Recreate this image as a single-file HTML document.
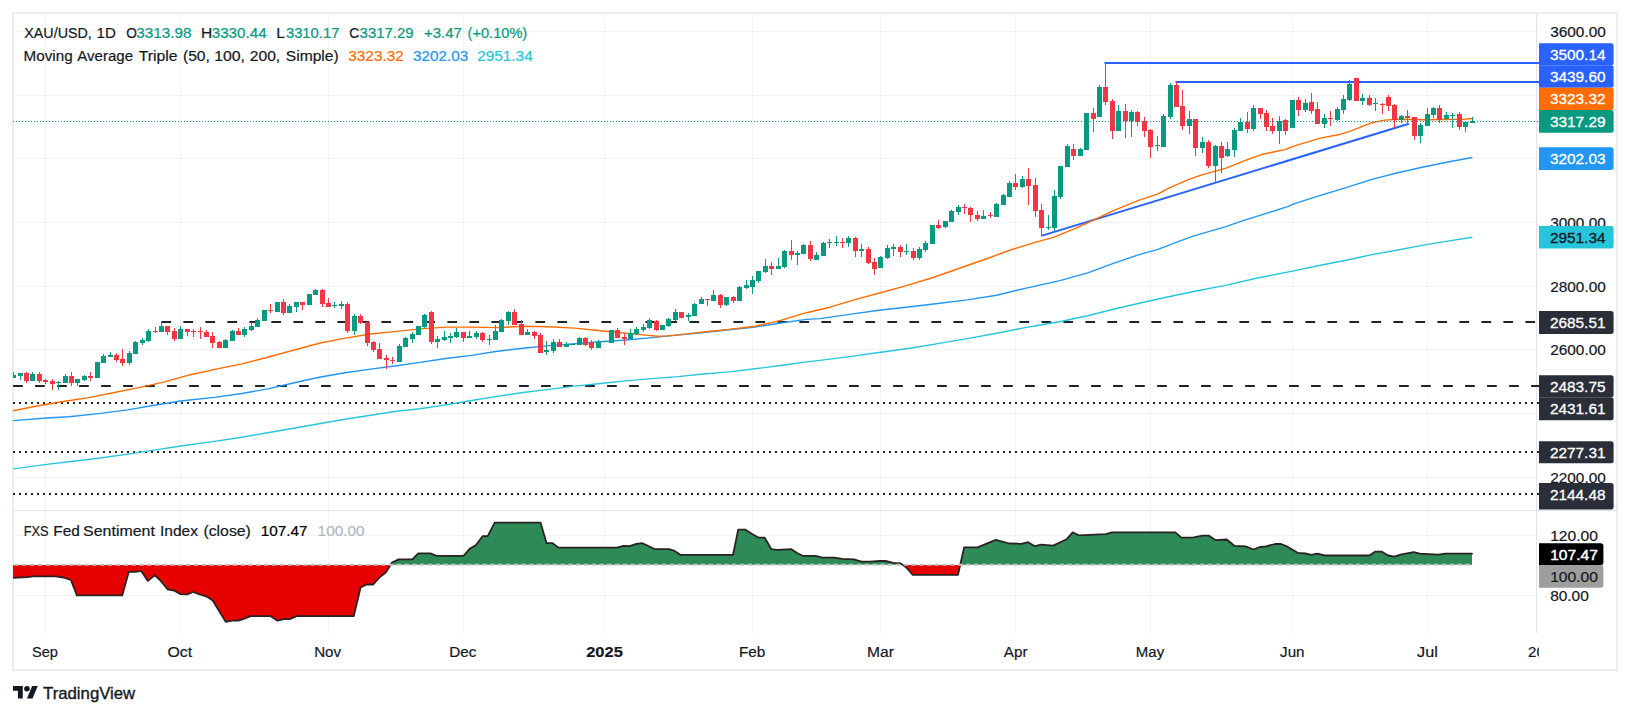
<!DOCTYPE html><html><head><meta charset="utf-8"><title>XAU/USD chart</title>
<style>html,body{margin:0;padding:0;background:#fff}svg{display:block}text{font-family:"Liberation Sans", sans-serif}</style></head><body>
<svg width="1630" height="716" viewBox="0 0 1630 716">
<rect width="1630" height="716" fill="#fff"/>
<defs><clipPath id="mp"><rect x="13" y="13" width="1526.0" height="497.5"/></clipPath><clipPath id="sp"><rect x="13" y="511" width="1523.5" height="122"/></clipPath><clipPath id="tc"><rect x="0" y="634" width="1539" height="36"/></clipPath></defs>
<g stroke="#2a2e39" stroke-opacity="0.06" stroke-width="1" shape-rendering="crispEdges">
<line x1="45.5" y1="12.5" x2="45.5" y2="633.0"/>
<line x1="180.5" y1="12.5" x2="180.5" y2="633.0"/>
<line x1="328.5" y1="12.5" x2="328.5" y2="633.0"/>
<line x1="463.5" y1="12.5" x2="463.5" y2="633.0"/>
<line x1="604.5" y1="12.5" x2="604.5" y2="633.0"/>
<line x1="752.5" y1="12.5" x2="752.5" y2="633.0"/>
<line x1="880.5" y1="12.5" x2="880.5" y2="633.0"/>
<line x1="1015.5" y1="12.5" x2="1015.5" y2="633.0"/>
<line x1="1150.5" y1="12.5" x2="1150.5" y2="633.0"/>
<line x1="1292.5" y1="12.5" x2="1292.5" y2="633.0"/>
<line x1="1427.5" y1="12.5" x2="1427.5" y2="633.0"/>
<line x1="12.5" y1="31.5" x2="1539.0" y2="31.5"/>
<line x1="12.5" y1="95.5" x2="1539.0" y2="95.5"/>
<line x1="12.5" y1="158.5" x2="1539.0" y2="158.5"/>
<line x1="12.5" y1="222.5" x2="1539.0" y2="222.5"/>
<line x1="12.5" y1="286.5" x2="1539.0" y2="286.5"/>
<line x1="12.5" y1="349.5" x2="1539.0" y2="349.5"/>
<line x1="12.5" y1="413.5" x2="1539.0" y2="413.5"/>
<line x1="12.5" y1="477.5" x2="1539.0" y2="477.5"/>
<line x1="12.5" y1="535.5" x2="1539.0" y2="535.5"/>
<line x1="12.5" y1="595.5" x2="1539.0" y2="595.5"/>
</g>
<g stroke="#e0e3eb" stroke-width="1" fill="none" shape-rendering="crispEdges">
<rect x="13" y="13" width="1604" height="657" stroke="#ebedf3" stroke-width="2"/>
<line x1="1536.5" y1="12.5" x2="1536.5" y2="633.0"/>
<line x1="12.5" y1="510.5" x2="1617.5" y2="510.5"/>
</g>
<g clip-path="url(#mp)">
<line x1="161.4" y1="322" x2="1539" y2="322" stroke="#1e222d" stroke-width="2" stroke-dasharray="9.7 12.3"/>
<line x1="13.1" y1="386" x2="1539" y2="386" stroke="#1e222d" stroke-width="2" stroke-dasharray="9.7 12.3"/>
<line x1="13.0" y1="403" x2="1539" y2="403" stroke="#1e222d" stroke-width="2" stroke-dasharray="2 4"/>
<line x1="13.0" y1="452" x2="1539" y2="452" stroke="#1e222d" stroke-width="2" stroke-dasharray="2 4"/>
<line x1="13.0" y1="494" x2="1539" y2="494" stroke="#1e222d" stroke-width="2" stroke-dasharray="2 4"/>
<line x1="1104.5" y1="63" x2="1539" y2="63" stroke="#2962ff" stroke-width="2"/>
<line x1="1175.5" y1="82" x2="1539" y2="82" stroke="#2962ff" stroke-width="2"/>
<line x1="1041.2" y1="235.9" x2="1408.9" y2="123.8" stroke="#2962ff" stroke-width="2"/>
<polyline fill="none" stroke="#26c6da" stroke-width="1.4" stroke-linejoin="round" points="13.1,468.9 46.8,464.4 68.9,461.7 98.4,458.2 127.8,454.1 157.3,449.6 180.8,446.0 216.2,441.1 241.9,437.2 267.7,432.7 293.4,428.3 319.2,423.7 345.0,419.3 370.7,415.2 396.5,411.3 420.0,408.8 445.8,404.9 471.5,400.5 497.3,396.4 523.1,392.5 548.8,389.4 574.6,386.1 600.4,383.5 626.1,380.9 651.9,378.6 677.7,376.6 703.4,374.0 729.2,371.9 755.0,368.8 780.7,365.5 806.5,361.9 820.0,360.4 849.5,356.6 878.9,352.5 908.4,348.5 937.8,343.6 967.3,338.6 996.7,333.3 1026.2,327.4 1036.1,325.8 1061.9,321.3 1087.7,315.7 1113.4,309.2 1139.2,303.3 1165.0,297.5 1197.3,290.7 1226.7,285.1 1256.2,278.3 1290.0,271.6 1320.4,265.2 1346.1,260.3 1371.9,254.6 1397.7,250.0 1423.4,245.1 1449.2,240.9 1472.4,237.3"/>
<polyline fill="none" stroke="#2196f3" stroke-width="1.4" stroke-linejoin="round" points="13.1,420.6 46.8,418.0 68.9,416.8 98.4,413.6 127.8,409.9 157.3,404.7 180.8,401.0 216.2,397.1 241.9,393.5 267.7,388.9 293.4,383.0 319.2,377.3 345.0,372.7 370.7,369.1 396.5,365.7 420.0,362.4 445.8,358.5 471.5,355.4 497.3,351.3 523.1,348.2 548.8,345.6 574.6,343.8 600.4,341.8 626.1,340.0 651.9,337.6 677.7,335.1 703.4,332.5 729.2,329.7 755.0,327.1 780.7,323.0 806.5,319.4 820.0,318.6 849.5,314.4 878.9,310.3 908.4,307.0 937.8,303.5 967.3,299.9 996.7,295.2 1026.2,288.1 1060.0,280.6 1087.7,272.9 1113.4,263.4 1139.2,254.6 1158.0,249.4 1165.8,246.4 1191.5,236.6 1225.0,226.8 1243.1,220.6 1268.8,212.6 1286.9,206.9 1294.6,203.6 1320.4,195.3 1346.1,187.6 1371.9,179.4 1397.7,172.7 1423.4,167.0 1449.2,161.8 1472.4,157.5"/>
<polyline fill="none" stroke="#ff6d00" stroke-width="1.4" stroke-linejoin="round" points="13.1,410.8 35.8,406.2 61.5,401.8 87.3,397.9 113.1,392.8 138.8,387.6 164.6,381.9 190.4,374.7 216.1,369.1 241.9,363.9 267.7,357.2 293.4,350.2 319.2,343.3 345.0,338.1 370.7,334.0 396.5,331.4 420.0,328.9 445.8,327.1 471.5,327.1 497.3,327.6 523.1,326.3 548.8,326.8 574.6,328.1 600.4,330.7 626.1,333.3 648.0,335.4 657.8,336.2 667.6,335.9 677.4,334.9 687.2,333.9 700.0,332.4 703.4,332.0 729.2,329.4 755.0,326.3 780.7,320.4 806.5,312.7 830.0,307.2 855.8,299.4 881.5,292.5 907.3,285.3 933.1,277.5 958.8,268.5 984.6,259.5 1010.4,250.0 1036.1,242.2 1054.2,237.1 1074.8,228.6 1087.7,222.9 1113.4,210.6 1139.2,200.2 1150.0,196.7 1157.5,194.2 1168.9,188.2 1187.7,179.8 1200.3,175.4 1212.8,171.8 1225.4,168.4 1238.0,163.4 1250.6,158.4 1263.1,154.2 1275.7,151.5 1285.1,149.6 1294.5,145.8 1320.4,138.1 1338.4,134.8 1351.3,130.9 1371.9,122.7 1384.8,120.1 1397.7,119.3 1423.4,119.7 1443.4,119.5 1464.7,119.4 1467.5,118.7 1472.4,118.5"/>
<g fill="#089981" shape-rendering="crispEdges">
<rect x="13" y="372" width="1" height="6"/><rect x="11" y="375" width="5" height="3"/>
<rect x="20" y="373" width="1" height="7"/><rect x="18" y="373" width="5" height="3"/>
<rect x="32" y="372" width="1" height="9"/><rect x="30" y="374" width="5" height="7"/>
<rect x="58" y="381" width="1" height="9"/><rect x="56" y="382" width="5" height="1"/>
<rect x="65" y="374" width="1" height="9"/><rect x="63" y="376" width="5" height="7"/>
<rect x="77" y="379" width="1" height="7"/><rect x="75" y="379" width="5" height="4"/>
<rect x="84" y="375" width="1" height="6"/><rect x="82" y="376" width="5" height="4"/>
<rect x="97" y="362" width="1" height="16"/><rect x="95" y="362" width="5" height="16"/>
<rect x="103" y="354" width="1" height="9"/><rect x="101" y="356" width="5" height="7"/>
<rect x="110" y="352" width="1" height="5"/><rect x="108" y="355" width="5" height="2"/>
<rect x="129" y="351" width="1" height="14"/><rect x="127" y="353" width="5" height="10"/>
<rect x="135" y="341" width="1" height="13"/><rect x="133" y="342" width="5" height="12"/>
<rect x="142" y="338" width="1" height="7"/><rect x="140" y="340" width="5" height="3"/>
<rect x="148" y="329" width="1" height="13"/><rect x="146" y="331" width="5" height="10"/>
<rect x="161" y="322" width="1" height="10"/><rect x="159" y="326" width="5" height="6"/>
<rect x="180" y="326" width="1" height="13"/><rect x="178" y="329" width="5" height="10"/>
<rect x="225" y="339" width="1" height="9"/><rect x="223" y="340" width="5" height="8"/>
<rect x="232" y="330" width="1" height="11"/><rect x="230" y="331" width="5" height="10"/>
<rect x="244" y="327" width="1" height="10"/><rect x="242" y="329" width="5" height="6"/>
<rect x="251" y="322" width="1" height="9"/><rect x="249" y="326" width="5" height="4"/>
<rect x="257" y="318" width="1" height="9"/><rect x="255" y="320" width="5" height="7"/>
<rect x="264" y="310" width="1" height="11"/><rect x="262" y="310" width="5" height="11"/>
<rect x="277" y="302" width="1" height="10"/><rect x="275" y="302" width="5" height="10"/>
<rect x="289" y="304" width="1" height="9"/><rect x="287" y="306" width="5" height="7"/>
<rect x="296" y="302" width="1" height="10"/><rect x="294" y="302" width="5" height="5"/>
<rect x="309" y="294" width="1" height="11"/><rect x="307" y="294" width="5" height="11"/>
<rect x="315" y="289" width="1" height="6"/><rect x="313" y="290" width="5" height="5"/>
<rect x="334" y="302" width="1" height="6"/><rect x="332" y="305" width="5" height="1"/>
<rect x="341" y="301" width="1" height="8"/><rect x="339" y="304" width="5" height="2"/>
<rect x="354" y="314" width="1" height="21"/><rect x="352" y="316" width="5" height="15"/>
<rect x="399" y="344" width="1" height="18"/><rect x="397" y="346" width="5" height="16"/>
<rect x="405" y="337" width="1" height="10"/><rect x="403" y="338" width="5" height="9"/>
<rect x="412" y="332" width="1" height="11"/><rect x="410" y="334" width="5" height="5"/>
<rect x="418" y="326" width="1" height="9"/><rect x="416" y="326" width="5" height="9"/>
<rect x="424" y="314" width="1" height="14"/><rect x="422" y="315" width="5" height="12"/>
<rect x="437" y="336" width="1" height="12"/><rect x="435" y="339" width="5" height="3"/>
<rect x="444" y="331" width="1" height="10"/><rect x="442" y="337" width="5" height="3"/>
<rect x="450" y="333" width="1" height="10"/><rect x="448" y="336" width="5" height="2"/>
<rect x="456" y="328" width="1" height="10"/><rect x="454" y="332" width="5" height="5"/>
<rect x="469" y="331" width="1" height="7"/><rect x="467" y="336" width="5" height="2"/>
<rect x="476" y="331" width="1" height="8"/><rect x="474" y="333" width="5" height="4"/>
<rect x="489" y="335" width="1" height="10"/><rect x="487" y="339" width="5" height="1"/>
<rect x="495" y="325" width="1" height="15"/><rect x="493" y="331" width="5" height="9"/>
<rect x="501" y="319" width="1" height="13"/><rect x="499" y="320" width="5" height="12"/>
<rect x="508" y="311" width="1" height="14"/><rect x="506" y="312" width="5" height="9"/>
<rect x="527" y="329" width="1" height="6"/><rect x="525" y="332" width="5" height="3"/>
<rect x="546" y="341" width="1" height="14"/><rect x="544" y="350" width="5" height="2"/>
<rect x="553" y="339" width="1" height="14"/><rect x="551" y="342" width="5" height="9"/>
<rect x="566" y="342" width="1" height="5"/><rect x="564" y="344" width="5" height="3"/>
<rect x="572" y="344" width="1" height="1"/><rect x="570" y="344" width="5" height="1"/>
<rect x="579" y="337" width="1" height="8"/><rect x="577" y="338" width="5" height="7"/>
<rect x="598" y="340" width="1" height="8"/><rect x="596" y="342" width="5" height="6"/>
<rect x="604" y="341" width="1" height="1"/><rect x="602" y="341" width="5" height="1"/>
<rect x="611" y="330" width="1" height="13"/><rect x="609" y="330" width="5" height="13"/>
<rect x="630" y="329" width="1" height="10"/><rect x="628" y="333" width="5" height="6"/>
<rect x="636" y="327" width="1" height="8"/><rect x="634" y="329" width="5" height="5"/>
<rect x="643" y="324" width="1" height="8"/><rect x="641" y="327" width="5" height="3"/>
<rect x="649" y="318" width="1" height="11"/><rect x="647" y="320" width="5" height="8"/>
<rect x="662" y="325" width="1" height="5"/><rect x="660" y="325" width="5" height="5"/>
<rect x="668" y="318" width="1" height="9"/><rect x="666" y="319" width="5" height="7"/>
<rect x="675" y="309" width="1" height="12"/><rect x="673" y="312" width="5" height="8"/>
<rect x="688" y="313" width="1" height="8"/><rect x="686" y="315" width="5" height="2"/>
<rect x="694" y="303" width="1" height="13"/><rect x="692" y="304" width="5" height="12"/>
<rect x="701" y="297" width="1" height="7"/><rect x="699" y="299" width="5" height="5"/>
<rect x="713" y="290" width="1" height="11"/><rect x="711" y="295" width="5" height="6"/>
<rect x="726" y="297" width="1" height="9"/><rect x="724" y="297" width="5" height="8"/>
<rect x="739" y="286" width="1" height="15"/><rect x="737" y="287" width="5" height="14"/>
<rect x="746" y="280" width="1" height="9"/><rect x="744" y="285" width="5" height="3"/>
<rect x="752" y="276" width="1" height="18"/><rect x="750" y="280" width="5" height="7"/>
<rect x="758" y="271" width="1" height="12"/><rect x="756" y="271" width="5" height="10"/>
<rect x="765" y="259" width="1" height="14"/><rect x="763" y="266" width="5" height="6"/>
<rect x="778" y="258" width="1" height="11"/><rect x="776" y="266" width="5" height="3"/>
<rect x="784" y="250" width="1" height="18"/><rect x="782" y="251" width="5" height="16"/>
<rect x="797" y="251" width="1" height="14"/><rect x="795" y="253" width="5" height="2"/>
<rect x="803" y="244" width="1" height="10"/><rect x="801" y="245" width="5" height="9"/>
<rect x="816" y="252" width="1" height="8"/><rect x="814" y="255" width="5" height="5"/>
<rect x="823" y="242" width="1" height="14"/><rect x="821" y="243" width="5" height="13"/>
<rect x="829" y="239" width="1" height="9"/><rect x="827" y="242" width="5" height="1"/>
<rect x="836" y="236" width="1" height="10"/><rect x="834" y="242" width="5" height="1"/>
<rect x="848" y="236" width="1" height="11"/><rect x="846" y="238" width="5" height="5"/>
<rect x="861" y="244" width="1" height="13"/><rect x="859" y="249" width="5" height="2"/>
<rect x="880" y="256" width="1" height="12"/><rect x="878" y="257" width="5" height="11"/>
<rect x="887" y="245" width="1" height="14"/><rect x="885" y="248" width="5" height="10"/>
<rect x="893" y="244" width="1" height="12"/><rect x="891" y="247" width="5" height="2"/>
<rect x="906" y="244" width="1" height="11"/><rect x="904" y="251" width="5" height="1"/>
<rect x="919" y="247" width="1" height="13"/><rect x="917" y="249" width="5" height="9"/>
<rect x="925" y="241" width="1" height="11"/><rect x="923" y="243" width="5" height="7"/>
<rect x="932" y="225" width="1" height="19"/><rect x="930" y="225" width="5" height="19"/>
<rect x="945" y="221" width="1" height="7"/><rect x="943" y="221" width="5" height="6"/>
<rect x="951" y="210" width="1" height="12"/><rect x="949" y="211" width="5" height="11"/>
<rect x="958" y="205" width="1" height="10"/><rect x="956" y="207" width="5" height="5"/>
<rect x="983" y="210" width="1" height="9"/><rect x="981" y="216" width="5" height="3"/>
<rect x="996" y="203" width="1" height="14"/><rect x="994" y="204" width="5" height="13"/>
<rect x="1003" y="194" width="1" height="11"/><rect x="1001" y="195" width="5" height="10"/>
<rect x="1009" y="181" width="1" height="16"/><rect x="1007" y="183" width="5" height="14"/>
<rect x="1022" y="176" width="1" height="12"/><rect x="1020" y="179" width="5" height="8"/>
<rect x="1048" y="215" width="1" height="15"/><rect x="1046" y="227" width="5" height="1"/>
<rect x="1054" y="190" width="1" height="41"/><rect x="1052" y="196" width="5" height="32"/>
<rect x="1060" y="166" width="1" height="33"/><rect x="1058" y="166" width="5" height="31"/>
<rect x="1067" y="144" width="1" height="23"/><rect x="1065" y="146" width="5" height="21"/>
<rect x="1080" y="148" width="1" height="8"/><rect x="1078" y="149" width="5" height="7"/>
<rect x="1086" y="113" width="1" height="37"/><rect x="1084" y="113" width="5" height="37"/>
<rect x="1099" y="85" width="1" height="32"/><rect x="1097" y="87" width="5" height="30"/>
<rect x="1118" y="105" width="1" height="26"/><rect x="1116" y="111" width="5" height="20"/>
<rect x="1131" y="110" width="1" height="27"/><rect x="1129" y="112" width="5" height="9"/>
<rect x="1157" y="136" width="1" height="15"/><rect x="1155" y="145" width="5" height="1"/>
<rect x="1163" y="114" width="1" height="33"/><rect x="1161" y="116" width="5" height="31"/>
<rect x="1170" y="83" width="1" height="36"/><rect x="1168" y="85" width="5" height="32"/>
<rect x="1189" y="111" width="1" height="23"/><rect x="1187" y="119" width="5" height="7"/>
<rect x="1202" y="137" width="1" height="16"/><rect x="1200" y="142" width="5" height="6"/>
<rect x="1215" y="145" width="1" height="38"/><rect x="1213" y="146" width="5" height="20"/>
<rect x="1227" y="142" width="1" height="15"/><rect x="1225" y="149" width="5" height="7"/>
<rect x="1234" y="128" width="1" height="29"/><rect x="1232" y="130" width="5" height="20"/>
<rect x="1240" y="118" width="1" height="13"/><rect x="1238" y="122" width="5" height="9"/>
<rect x="1253" y="105" width="1" height="26"/><rect x="1251" y="108" width="5" height="21"/>
<rect x="1279" y="116" width="1" height="28"/><rect x="1277" y="121" width="5" height="10"/>
<rect x="1292" y="100" width="1" height="28"/><rect x="1290" y="100" width="5" height="28"/>
<rect x="1305" y="99" width="1" height="13"/><rect x="1303" y="103" width="5" height="7"/>
<rect x="1324" y="114" width="1" height="14"/><rect x="1322" y="118" width="5" height="6"/>
<rect x="1337" y="107" width="1" height="14"/><rect x="1335" y="109" width="5" height="11"/>
<rect x="1343" y="95" width="1" height="19"/><rect x="1341" y="99" width="5" height="11"/>
<rect x="1349" y="80" width="1" height="21"/><rect x="1347" y="84" width="5" height="16"/>
<rect x="1362" y="94" width="1" height="11"/><rect x="1360" y="98" width="5" height="3"/>
<rect x="1375" y="98" width="1" height="13"/><rect x="1373" y="103" width="5" height="1"/>
<rect x="1401" y="115" width="1" height="8"/><rect x="1399" y="116" width="5" height="4"/>
<rect x="1420" y="123" width="1" height="20"/><rect x="1418" y="125" width="5" height="11"/>
<rect x="1427" y="108" width="1" height="18"/><rect x="1425" y="114" width="5" height="12"/>
<rect x="1433" y="107" width="1" height="11"/><rect x="1431" y="108" width="5" height="7"/>
<rect x="1446" y="112" width="1" height="7"/><rect x="1444" y="115" width="5" height="4"/>
<rect x="1452" y="113" width="1" height="15"/><rect x="1450" y="115" width="5" height="1"/>
<rect x="1465" y="122" width="1" height="10"/><rect x="1463" y="122" width="5" height="5"/>
<rect x="1472" y="117" width="1" height="6"/><rect x="1470" y="121" width="5" height="2"/>
</g>
<g fill="#f23645" shape-rendering="crispEdges">
<rect x="26" y="372" width="1" height="11"/><rect x="24" y="373" width="5" height="8"/>
<rect x="39" y="372" width="1" height="11"/><rect x="37" y="374" width="5" height="7"/>
<rect x="45" y="379" width="1" height="5"/><rect x="43" y="380" width="5" height="2"/>
<rect x="52" y="379" width="1" height="11"/><rect x="50" y="381" width="5" height="3"/>
<rect x="71" y="372" width="1" height="14"/><rect x="69" y="376" width="5" height="7"/>
<rect x="90" y="372" width="1" height="9"/><rect x="88" y="376" width="5" height="2"/>
<rect x="116" y="353" width="1" height="9"/><rect x="114" y="355" width="5" height="5"/>
<rect x="122" y="349" width="1" height="17"/><rect x="120" y="359" width="5" height="4"/>
<rect x="155" y="327" width="1" height="6"/><rect x="153" y="331" width="5" height="1"/>
<rect x="167" y="326" width="1" height="9"/><rect x="165" y="326" width="5" height="6"/>
<rect x="174" y="328" width="1" height="13"/><rect x="172" y="331" width="5" height="8"/>
<rect x="187" y="329" width="1" height="7"/><rect x="185" y="329" width="5" height="3"/>
<rect x="193" y="329" width="1" height="8"/><rect x="191" y="331" width="5" height="1"/>
<rect x="200" y="327" width="1" height="12"/><rect x="198" y="331" width="5" height="1"/>
<rect x="206" y="330" width="1" height="7"/><rect x="204" y="332" width="5" height="5"/>
<rect x="212" y="332" width="1" height="16"/><rect x="210" y="336" width="5" height="7"/>
<rect x="219" y="341" width="1" height="7"/><rect x="217" y="342" width="5" height="6"/>
<rect x="238" y="328" width="1" height="7"/><rect x="236" y="331" width="5" height="4"/>
<rect x="270" y="304" width="1" height="9"/><rect x="268" y="310" width="5" height="1"/>
<rect x="283" y="299" width="1" height="16"/><rect x="281" y="302" width="5" height="11"/>
<rect x="302" y="302" width="1" height="8"/><rect x="300" y="302" width="5" height="3"/>
<rect x="322" y="289" width="1" height="18"/><rect x="320" y="290" width="5" height="14"/>
<rect x="328" y="298" width="1" height="9"/><rect x="326" y="303" width="5" height="4"/>
<rect x="347" y="302" width="1" height="31"/><rect x="345" y="304" width="5" height="27"/>
<rect x="360" y="314" width="1" height="10"/><rect x="358" y="316" width="5" height="7"/>
<rect x="367" y="322" width="1" height="24"/><rect x="365" y="322" width="5" height="21"/>
<rect x="373" y="341" width="1" height="11"/><rect x="371" y="342" width="5" height="8"/>
<rect x="379" y="343" width="1" height="16"/><rect x="377" y="349" width="5" height="10"/>
<rect x="386" y="355" width="1" height="14"/><rect x="384" y="358" width="5" height="2"/>
<rect x="392" y="357" width="1" height="7"/><rect x="390" y="360" width="5" height="1"/>
<rect x="431" y="311" width="1" height="33"/><rect x="429" y="312" width="5" height="30"/>
<rect x="463" y="332" width="1" height="10"/><rect x="461" y="332" width="5" height="6"/>
<rect x="482" y="332" width="1" height="10"/><rect x="480" y="333" width="5" height="7"/>
<rect x="514" y="309" width="1" height="16"/><rect x="512" y="312" width="5" height="13"/>
<rect x="521" y="320" width="1" height="15"/><rect x="519" y="324" width="5" height="11"/>
<rect x="534" y="331" width="1" height="8"/><rect x="532" y="332" width="5" height="4"/>
<rect x="540" y="333" width="1" height="20"/><rect x="538" y="335" width="5" height="18"/>
<rect x="559" y="339" width="1" height="8"/><rect x="557" y="342" width="5" height="5"/>
<rect x="585" y="337" width="1" height="9"/><rect x="583" y="338" width="5" height="7"/>
<rect x="591" y="340" width="1" height="10"/><rect x="589" y="342" width="5" height="6"/>
<rect x="617" y="328" width="1" height="10"/><rect x="615" y="330" width="5" height="8"/>
<rect x="624" y="334" width="1" height="11"/><rect x="622" y="337" width="5" height="2"/>
<rect x="656" y="320" width="1" height="11"/><rect x="654" y="321" width="5" height="9"/>
<rect x="681" y="312" width="1" height="6"/><rect x="679" y="312" width="5" height="6"/>
<rect x="707" y="299" width="1" height="7"/><rect x="705" y="299" width="5" height="1"/>
<rect x="720" y="294" width="1" height="14"/><rect x="718" y="295" width="5" height="10"/>
<rect x="733" y="296" width="1" height="7"/><rect x="731" y="297" width="5" height="4"/>
<rect x="771" y="262" width="1" height="13"/><rect x="769" y="266" width="5" height="3"/>
<rect x="791" y="240" width="1" height="20"/><rect x="789" y="251" width="5" height="4"/>
<rect x="810" y="241" width="1" height="20"/><rect x="808" y="245" width="5" height="14"/>
<rect x="842" y="238" width="1" height="10"/><rect x="840" y="242" width="5" height="1"/>
<rect x="855" y="237" width="1" height="20"/><rect x="853" y="238" width="5" height="13"/>
<rect x="868" y="247" width="1" height="17"/><rect x="866" y="249" width="5" height="14"/>
<rect x="874" y="258" width="1" height="17"/><rect x="872" y="262" width="5" height="7"/>
<rect x="900" y="245" width="1" height="12"/><rect x="898" y="247" width="5" height="5"/>
<rect x="913" y="248" width="1" height="12"/><rect x="911" y="251" width="5" height="7"/>
<rect x="938" y="220" width="1" height="9"/><rect x="936" y="225" width="5" height="3"/>
<rect x="964" y="204" width="1" height="10"/><rect x="962" y="207" width="5" height="1"/>
<rect x="970" y="207" width="1" height="15"/><rect x="968" y="208" width="5" height="7"/>
<rect x="977" y="211" width="1" height="10"/><rect x="975" y="215" width="5" height="4"/>
<rect x="990" y="212" width="1" height="6"/><rect x="988" y="215" width="5" height="1"/>
<rect x="1015" y="174" width="1" height="16"/><rect x="1013" y="183" width="5" height="4"/>
<rect x="1028" y="168" width="1" height="37"/><rect x="1026" y="179" width="5" height="7"/>
<rect x="1035" y="178" width="1" height="39"/><rect x="1033" y="185" width="5" height="26"/>
<rect x="1041" y="204" width="1" height="32"/><rect x="1039" y="210" width="5" height="18"/>
<rect x="1073" y="144" width="1" height="16"/><rect x="1071" y="149" width="5" height="7"/>
<rect x="1093" y="108" width="1" height="24"/><rect x="1091" y="113" width="5" height="6"/>
<rect x="1105" y="63" width="1" height="42"/><rect x="1103" y="87" width="5" height="15"/>
<rect x="1112" y="99" width="1" height="40"/><rect x="1110" y="101" width="5" height="30"/>
<rect x="1125" y="104" width="1" height="34"/><rect x="1123" y="111" width="5" height="10"/>
<rect x="1137" y="111" width="1" height="15"/><rect x="1135" y="112" width="5" height="10"/>
<rect x="1144" y="117" width="1" height="20"/><rect x="1142" y="121" width="5" height="10"/>
<rect x="1150" y="129" width="1" height="29"/><rect x="1148" y="130" width="5" height="17"/>
<rect x="1176" y="82" width="1" height="25"/><rect x="1174" y="85" width="5" height="22"/>
<rect x="1182" y="90" width="1" height="40"/><rect x="1180" y="106" width="5" height="20"/>
<rect x="1195" y="119" width="1" height="37"/><rect x="1193" y="119" width="5" height="29"/>
<rect x="1208" y="140" width="1" height="28"/><rect x="1206" y="142" width="5" height="24"/>
<rect x="1221" y="142" width="1" height="31"/><rect x="1219" y="146" width="5" height="12"/>
<rect x="1247" y="112" width="1" height="21"/><rect x="1245" y="122" width="5" height="7"/>
<rect x="1260" y="108" width="1" height="11"/><rect x="1258" y="108" width="5" height="6"/>
<rect x="1266" y="110" width="1" height="21"/><rect x="1264" y="113" width="5" height="14"/>
<rect x="1272" y="118" width="1" height="16"/><rect x="1270" y="126" width="5" height="5"/>
<rect x="1285" y="119" width="1" height="16"/><rect x="1283" y="120" width="5" height="11"/>
<rect x="1298" y="97" width="1" height="19"/><rect x="1296" y="100" width="5" height="10"/>
<rect x="1311" y="93" width="1" height="21"/><rect x="1309" y="102" width="5" height="9"/>
<rect x="1317" y="102" width="1" height="22"/><rect x="1315" y="109" width="5" height="15"/>
<rect x="1330" y="111" width="1" height="15"/><rect x="1328" y="118" width="5" height="1"/>
<rect x="1356" y="78" width="1" height="23"/><rect x="1354" y="78" width="5" height="23"/>
<rect x="1369" y="95" width="1" height="11"/><rect x="1367" y="98" width="5" height="7"/>
<rect x="1382" y="103" width="1" height="11"/><rect x="1380" y="104" width="5" height="1"/>
<rect x="1388" y="95" width="1" height="16"/><rect x="1386" y="97" width="5" height="9"/>
<rect x="1394" y="104" width="1" height="24"/><rect x="1392" y="105" width="5" height="15"/>
<rect x="1407" y="110" width="1" height="13"/><rect x="1405" y="116" width="5" height="2"/>
<rect x="1414" y="117" width="1" height="23"/><rect x="1412" y="117" width="5" height="19"/>
<rect x="1439" y="105" width="1" height="18"/><rect x="1437" y="108" width="5" height="12"/>
<rect x="1459" y="112" width="1" height="18"/><rect x="1457" y="114" width="5" height="13"/>
</g>
<line x1="13" y1="121.5" x2="1539" y2="121.5" stroke="#089981" stroke-width="1" stroke-dasharray="1 2" shape-rendering="crispEdges"/>
</g>
<g clip-path="url(#sp)">
<polygon points="12.7,564.8 12.7,564.8 27.2,564.8 33.2,564.8 55.8,564.8 63.4,564.8 70.9,564.8 76.9,564.8 122.2,564.8 128.8,564.8 135.8,564.8 141.2,564.8 147.9,564.8 154.8,564.8 159.9,564.8 167.5,564.8 174.1,564.8 180.4,564.8 187.1,564.8 193.1,564.8 199.8,564.8 206.7,564.8 212.7,564.8 225.7,564.8 232.3,564.8 238.4,564.8 244.4,564.8 250.5,564.8 270.7,564.8 277.6,564.8 283.6,564.8 289.7,564.8 296.6,564.8 353.7,564.8 360.6,564.8 366.6,564.8 373.3,564.8 380.0,564.8 386.0,564.8 390.2,564.8 392.0,562.5 398.7,559.4 412.3,559.4 418.3,553.4 430.4,553.4 436.4,555.8 463.6,555.8 469.6,548.9 475.7,545.3 482.6,536.2 487.7,536.2 494.7,522.6 540.5,522.6 546.6,543.2 552.6,543.2 558.6,547.7 616.9,547.7 623.5,545.9 629.5,546.2 636.5,543.8 642.5,543.2 655.2,549.2 668.8,549.2 674.2,550.7 680.8,554.9 733.0,554.9 738.2,529.6 745.1,529.6 751.7,533.8 758.7,537.7 764.7,537.7 771.4,549.2 777.4,549.8 791.5,549.2 796.6,552.8 802.6,555.8 815.6,555.8 822.2,557.6 834.3,557.6 841.9,558.8 853.9,559.4 861.5,561.6 870.5,561.6 879.6,561.0 885.6,561.0 893.2,562.8 900.7,563.4 903.5,564.8 906.7,564.8 912.8,564.8 958.0,564.8 960.1,564.8 964.1,547.4 977.6,547.4 995.8,539.8 1009.3,543.5 1021.4,543.8 1028.0,542.2 1035.0,546.2 1041.0,544.7 1053.1,545.6 1066.7,539.2 1072.7,532.3 1078.7,535.3 1105.9,534.1 1111.9,532.3 1175.3,532.3 1181.3,537.7 1193.6,537.4 1202.6,535.6 1208.7,535.6 1215.3,540.1 1226.7,539.5 1234.3,545.8 1245.7,546.4 1253.3,549.5 1259.9,547.0 1266.0,546.4 1275.0,544.0 1281.0,544.0 1287.0,546.4 1297.6,552.8 1305.2,553.4 1311.2,554.9 1317.2,553.7 1324.8,555.5 1369.4,555.5 1375.4,551.6 1381.5,551.6 1388.1,555.5 1394.1,556.7 1401.7,554.3 1413.7,552.2 1419.8,553.7 1437.9,554.6 1445.4,553.7 1472.0,553.7 1472.0,564.8" fill="#2e8b57"/>
<polygon points="12.7,565.0 12.7,577.9 27.2,577.2 33.2,576.3 55.8,576.3 63.4,577.5 70.9,580.0 76.9,595.4 122.2,595.4 128.8,571.8 135.8,571.8 141.2,570.9 147.9,580.9 154.8,575.4 159.9,580.0 167.5,589.3 174.1,590.5 180.4,594.1 187.1,594.4 193.1,592.0 199.8,594.4 206.7,596.6 212.7,600.5 225.7,621.9 232.3,620.7 238.4,620.7 244.4,618.6 250.5,616.2 270.7,616.2 277.6,620.7 283.6,619.2 289.7,619.2 296.6,616.2 353.7,616.2 360.6,587.5 366.6,584.5 373.3,584.5 380.0,577.0 386.0,572.4 390.2,565.5 392.0,565.0 398.7,565.0 412.3,565.0 418.3,565.0 430.4,565.0 436.4,565.0 463.6,565.0 469.6,565.0 475.7,565.0 482.6,565.0 487.7,565.0 494.7,565.0 540.5,565.0 546.6,565.0 552.6,565.0 558.6,565.0 616.9,565.0 623.5,565.0 629.5,565.0 636.5,565.0 642.5,565.0 655.2,565.0 668.8,565.0 674.2,565.0 680.8,565.0 733.0,565.0 738.2,565.0 745.1,565.0 751.7,565.0 758.7,565.0 764.7,565.0 771.4,565.0 777.4,565.0 791.5,565.0 796.6,565.0 802.6,565.0 815.6,565.0 822.2,565.0 834.3,565.0 841.9,565.0 853.9,565.0 861.5,565.0 870.5,565.0 879.6,565.0 885.6,565.0 893.2,565.0 900.7,565.0 903.5,565.5 906.7,567.9 912.8,574.8 958.0,574.8 960.1,565.5 964.1,565.0 977.6,565.0 995.8,565.0 1009.3,565.0 1021.4,565.0 1028.0,565.0 1035.0,565.0 1041.0,565.0 1053.1,565.0 1066.7,565.0 1072.7,565.0 1078.7,565.0 1105.9,565.0 1111.9,565.0 1175.3,565.0 1181.3,565.0 1193.6,565.0 1202.6,565.0 1208.7,565.0 1215.3,565.0 1226.7,565.0 1234.3,565.0 1245.7,565.0 1253.3,565.0 1259.9,565.0 1266.0,565.0 1275.0,565.0 1281.0,565.0 1287.0,565.0 1297.6,565.0 1305.2,565.0 1311.2,565.0 1317.2,565.0 1324.8,565.0 1369.4,565.0 1375.4,565.0 1381.5,565.0 1388.1,565.0 1394.1,565.0 1401.7,565.0 1413.7,565.0 1419.8,565.0 1437.9,565.0 1445.4,565.0 1472.0,565.0 1472.0,565.0" fill="#e60000"/>
<polyline points="12.7,577.9 27.2,577.2 33.2,576.3 55.8,576.3 63.4,577.5 70.9,580.0 76.9,595.4 122.2,595.4 128.8,571.8 135.8,571.8 141.2,570.9 147.9,580.9 154.8,575.4 159.9,580.0 167.5,589.3 174.1,590.5 180.4,594.1 187.1,594.4 193.1,592.0 199.8,594.4 206.7,596.6 212.7,600.5 225.7,621.9 232.3,620.7 238.4,620.7 244.4,618.6 250.5,616.2 270.7,616.2 277.6,620.7 283.6,619.2 289.7,619.2 296.6,616.2 353.7,616.2 360.6,587.5 366.6,584.5 373.3,584.5 380.0,577.0 386.0,572.4 392.0,562.5 398.7,559.4 412.3,559.4 418.3,553.4 430.4,553.4 436.4,555.8 463.6,555.8 469.6,548.9 475.7,545.3 482.6,536.2 487.7,536.2 494.7,522.6 540.5,522.6 546.6,543.2 552.6,543.2 558.6,547.7 616.9,547.7 623.5,545.9 629.5,546.2 636.5,543.8 642.5,543.2 655.2,549.2 668.8,549.2 674.2,550.7 680.8,554.9 733.0,554.9 738.2,529.6 745.1,529.6 751.7,533.8 758.7,537.7 764.7,537.7 771.4,549.2 777.4,549.8 791.5,549.2 796.6,552.8 802.6,555.8 815.6,555.8 822.2,557.6 834.3,557.6 841.9,558.8 853.9,559.4 861.5,561.6 870.5,561.6 879.6,561.0 885.6,561.0 893.2,562.8 900.7,563.4 906.7,567.9 912.8,574.8 958.0,574.8 964.1,547.4 977.6,547.4 995.8,539.8 1009.3,543.5 1021.4,543.8 1028.0,542.2 1035.0,546.2 1041.0,544.7 1053.1,545.6 1066.7,539.2 1072.7,532.3 1078.7,535.3 1105.9,534.1 1111.9,532.3 1175.3,532.3 1181.3,537.7 1193.6,537.4 1202.6,535.6 1208.7,535.6 1215.3,540.1 1226.7,539.5 1234.3,545.8 1245.7,546.4 1253.3,549.5 1259.9,547.0 1266.0,546.4 1275.0,544.0 1281.0,544.0 1287.0,546.4 1297.6,552.8 1305.2,553.4 1311.2,554.9 1317.2,553.7 1324.8,555.5 1369.4,555.5 1375.4,551.6 1381.5,551.6 1388.1,555.5 1394.1,556.7 1401.7,554.3 1413.7,552.2 1419.8,553.7 1437.9,554.6 1445.4,553.7 1472.0,553.7" fill="none" stroke="#2a2222" stroke-width="1.8" stroke-linejoin="round" stroke-linecap="round"/>
<line x1="14.5" y1="564.8" x2="1472.0" y2="564.8" stroke="#c6c6c6" stroke-width="1.9" stroke-dasharray="4.2 3.6"/>
</g>
<text x="1550.20" y="36.8" font-size="15.1" fill="#131722" text-anchor="start" font-weight="normal" textLength="55.60" lengthAdjust="spacingAndGlyphs" stroke="#131722" stroke-width="0.2">3600.00</text>
<text x="1550.20" y="227.8" font-size="15.1" fill="#131722" text-anchor="start" font-weight="normal" textLength="55.60" lengthAdjust="spacingAndGlyphs" stroke="#131722" stroke-width="0.2">3000.00</text>
<text x="1550.20" y="291.5" font-size="15.1" fill="#131722" text-anchor="start" font-weight="normal" textLength="55.60" lengthAdjust="spacingAndGlyphs" stroke="#131722" stroke-width="0.2">2800.00</text>
<text x="1550.20" y="355.2" font-size="15.1" fill="#131722" text-anchor="start" font-weight="normal" textLength="55.60" lengthAdjust="spacingAndGlyphs" stroke="#131722" stroke-width="0.2">2600.00</text>
<text x="1550.20" y="482.5" font-size="15.1" fill="#131722" text-anchor="start" font-weight="normal" textLength="55.60" lengthAdjust="spacingAndGlyphs" stroke="#131722" stroke-width="0.2">2200.00</text>
<path d="M1539.0 43.2H1611.1A2.5 2.5 0 0 1 1613.6 45.7V62.8A2.5 2.5 0 0 1 1611.1 65.3H1539.0Z" fill="#2962ff"/>
<text x="1549.90" y="59.6" font-size="15.1" fill="#fff" text-anchor="start" font-weight="normal" textLength="55.60" lengthAdjust="spacingAndGlyphs" stroke="#fff" stroke-width="0.3">3500.14</text>
<path d="M1539.0 65.3H1611.1A2.5 2.5 0 0 1 1613.6 67.8V85.2A2.5 2.5 0 0 1 1611.1 87.7H1539.0Z" fill="#2962ff"/>
<text x="1549.90" y="81.9" font-size="15.1" fill="#fff" text-anchor="start" font-weight="normal" textLength="55.60" lengthAdjust="spacingAndGlyphs" stroke="#fff" stroke-width="0.3">3439.60</text>
<path d="M1539.0 87.7H1611.1A2.5 2.5 0 0 1 1613.6 90.2V107.5A2.5 2.5 0 0 1 1611.1 110.0H1539.0Z" fill="#ff6d00"/>
<text x="1549.90" y="104.3" font-size="15.1" fill="#fff" text-anchor="start" font-weight="normal" textLength="55.60" lengthAdjust="spacingAndGlyphs" stroke="#fff" stroke-width="0.3">3323.32</text>
<path d="M1539.0 110.0H1611.1A2.5 2.5 0 0 1 1613.6 112.5V130.2A2.5 2.5 0 0 1 1611.1 132.7H1539.0Z" fill="#089981"/>
<text x="1549.90" y="126.8" font-size="15.1" fill="#fff" text-anchor="start" font-weight="normal" textLength="55.60" lengthAdjust="spacingAndGlyphs" stroke="#fff" stroke-width="0.3">3317.29</text>
<path d="M1539.0 147.3H1611.1A2.5 2.5 0 0 1 1613.6 149.8V167.4A2.5 2.5 0 0 1 1611.1 169.9H1539.0Z" fill="#2196f3"/>
<text x="1549.90" y="164.0" font-size="15.1" fill="#fff" text-anchor="start" font-weight="normal" textLength="55.60" lengthAdjust="spacingAndGlyphs" stroke="#fff" stroke-width="0.3">3202.03</text>
<path d="M1539.0 226.1H1611.1A2.5 2.5 0 0 1 1613.6 228.6V246.1A2.5 2.5 0 0 1 1611.1 248.6H1539.0Z" fill="#26c6da"/>
<text x="1549.90" y="242.8" font-size="15.1" fill="#131722" text-anchor="start" font-weight="normal" textLength="55.60" lengthAdjust="spacingAndGlyphs" stroke="#131722" stroke-width="0.3">2951.34</text>
<path d="M1539.0 310.9H1611.1A2.5 2.5 0 0 1 1613.6 313.4V331.4A2.5 2.5 0 0 1 1611.1 333.9H1539.0Z" fill="#2a2e39"/>
<text x="1549.90" y="327.8" font-size="15.1" fill="#fff" text-anchor="start" font-weight="normal" textLength="55.60" lengthAdjust="spacingAndGlyphs" stroke="#fff" stroke-width="0.3">2685.51</text>
<path d="M1539.0 375.2H1611.1A2.5 2.5 0 0 1 1613.6 377.7V394.7A2.5 2.5 0 0 1 1611.1 397.2H1539.0Z" fill="#2a2e39"/>
<text x="1549.90" y="391.6" font-size="15.1" fill="#fff" text-anchor="start" font-weight="normal" textLength="55.60" lengthAdjust="spacingAndGlyphs" stroke="#fff" stroke-width="0.3">2483.75</text>
<path d="M1539.0 397.2H1611.1A2.5 2.5 0 0 1 1613.6 399.7V417.8A2.5 2.5 0 0 1 1611.1 420.3H1539.0Z" fill="#2a2e39"/>
<text x="1549.90" y="414.1" font-size="15.1" fill="#fff" text-anchor="start" font-weight="normal" textLength="55.60" lengthAdjust="spacingAndGlyphs" stroke="#fff" stroke-width="0.3">2431.61</text>
<path d="M1539.0 441.2H1611.1A2.5 2.5 0 0 1 1613.6 443.7V460.7A2.5 2.5 0 0 1 1611.1 463.2H1539.0Z" fill="#2a2e39"/>
<text x="1549.90" y="457.6" font-size="15.1" fill="#fff" text-anchor="start" font-weight="normal" textLength="55.60" lengthAdjust="spacingAndGlyphs" stroke="#fff" stroke-width="0.3">2277.31</text>
<path d="M1539.0 483.1H1611.1A2.5 2.5 0 0 1 1613.6 485.6V507.1A2.5 2.5 0 0 1 1611.1 509.6H1539.0Z" fill="#2a2e39"/>
<text x="1549.90" y="499.8" font-size="15.1" fill="#fff" text-anchor="start" font-weight="normal" textLength="55.60" lengthAdjust="spacingAndGlyphs" stroke="#fff" stroke-width="0.3">2144.48</text>
<text x="1550.20" y="540.8" font-size="15.1" fill="#131722" text-anchor="start" font-weight="normal" textLength="47.60" lengthAdjust="spacingAndGlyphs" stroke="#131722" stroke-width="0.2">120.00</text>
<text x="1550.20" y="600.8" font-size="15.1" fill="#131722" text-anchor="start" font-weight="normal" textLength="38.60" lengthAdjust="spacingAndGlyphs" stroke="#131722" stroke-width="0.2">80.00</text>
<path d="M1539.0 543.2H1600.9A2.5 2.5 0 0 1 1603.4 545.7V562.5A2.5 2.5 0 0 1 1600.9 565.0H1539.0Z" fill="#000"/>
<text x="1550.20" y="559.6" font-size="15.1" fill="#fff" text-anchor="start" font-weight="normal" textLength="47.60" lengthAdjust="spacingAndGlyphs" stroke="#fff" stroke-width="0.45">107.47</text>
<path d="M1539.0 565.0H1600.9A2.5 2.5 0 0 1 1603.4 567.5V585.2A2.5 2.5 0 0 1 1600.9 587.7H1539.0Z" fill="#9e9e9e"/>
<text x="1550.20" y="581.8" font-size="15.1" fill="#131722" text-anchor="start" font-weight="normal" textLength="47.60" lengthAdjust="spacingAndGlyphs" stroke="#131722" stroke-width="0.2">100.00</text>
<text x="1528.00" y="657.0" font-size="15.1" fill="#131722" text-anchor="start" font-weight="normal" clip-path="url(#tc)" stroke="#131722" stroke-width="0.2">2026</text>
<text x="24.30" y="37.9" font-size="15.1" fill="#131722" text-anchor="start" font-weight="normal" textLength="67.49" lengthAdjust="spacingAndGlyphs" stroke="#131722" stroke-width="0.2">XAU/USD,</text>
<text x="96.56" y="37.9" font-size="15.1" fill="#131722" text-anchor="start" font-weight="normal" textLength="19.29" lengthAdjust="spacingAndGlyphs" stroke="#131722" stroke-width="0.2">1D</text>
<text x="126.23" y="37.9" font-size="15.1" fill="#131722" text-anchor="start" font-weight="normal" textLength="10.65" lengthAdjust="spacingAndGlyphs" stroke="#131722" stroke-width="0.2">O</text>
<text x="136.39" y="37.9" font-size="15.1" fill="#089981" text-anchor="start" font-weight="normal" textLength="55.16" lengthAdjust="spacingAndGlyphs" stroke="#089981" stroke-width="0.2">3313.98</text>
<text x="200.96" y="37.9" font-size="15.1" fill="#131722" text-anchor="start" font-weight="normal" textLength="11.18" lengthAdjust="spacingAndGlyphs" stroke="#131722" stroke-width="0.2">H</text>
<text x="211.69" y="37.9" font-size="15.1" fill="#089981" text-anchor="start" font-weight="normal" textLength="54.90" lengthAdjust="spacingAndGlyphs" stroke="#089981" stroke-width="0.2">3330.44</text>
<text x="276.35" y="37.9" font-size="15.1" fill="#131722" text-anchor="start" font-weight="normal" textLength="8.69" lengthAdjust="spacingAndGlyphs" stroke="#131722" stroke-width="0.2">L</text>
<text x="285.91" y="37.9" font-size="15.1" fill="#089981" text-anchor="start" font-weight="normal" textLength="53.51" lengthAdjust="spacingAndGlyphs" stroke="#089981" stroke-width="0.2">3310.17</text>
<text x="349.17" y="37.9" font-size="15.1" fill="#131722" text-anchor="start" font-weight="normal" textLength="9.96" lengthAdjust="spacingAndGlyphs" stroke="#131722" stroke-width="0.2">C</text>
<text x="359.61" y="37.9" font-size="15.1" fill="#089981" text-anchor="start" font-weight="normal" textLength="53.92" lengthAdjust="spacingAndGlyphs" stroke="#089981" stroke-width="0.2">3317.29</text>
<text x="423.89" y="37.9" font-size="15.1" fill="#089981" text-anchor="start" font-weight="normal" textLength="37.95" lengthAdjust="spacingAndGlyphs" stroke="#089981" stroke-width="0.2">+3.47</text>
<text x="467.59" y="37.9" font-size="15.1" fill="#089981" text-anchor="start" font-weight="normal" textLength="59.65" lengthAdjust="spacingAndGlyphs" stroke="#089981" stroke-width="0.2">(+0.10%)</text>
<text x="23.54" y="60.7" font-size="15.1" fill="#131722" text-anchor="start" font-weight="normal" textLength="49.08" lengthAdjust="spacingAndGlyphs" stroke="#131722" stroke-width="0.2">Moving</text>
<text x="77.29" y="60.7" font-size="15.1" fill="#131722" text-anchor="start" font-weight="normal" textLength="55.75" lengthAdjust="spacingAndGlyphs" stroke="#131722" stroke-width="0.2">Average</text>
<text x="138.77" y="60.7" font-size="15.1" fill="#131722" text-anchor="start" font-weight="normal" textLength="38.78" lengthAdjust="spacingAndGlyphs" stroke="#131722" stroke-width="0.2">Triple</text>
<text x="183.00" y="60.7" font-size="15.1" fill="#131722" text-anchor="start" font-weight="normal" textLength="26.88" lengthAdjust="spacingAndGlyphs" stroke="#131722" stroke-width="0.2">(50,</text>
<text x="214.26" y="60.7" font-size="15.1" fill="#131722" text-anchor="start" font-weight="normal" textLength="30.74" lengthAdjust="spacingAndGlyphs" stroke="#131722" stroke-width="0.2">100,</text>
<text x="249.80" y="60.7" font-size="15.1" fill="#131722" text-anchor="start" font-weight="normal" textLength="30.38" lengthAdjust="spacingAndGlyphs" stroke="#131722" stroke-width="0.2">200,</text>
<text x="285.83" y="60.7" font-size="15.1" fill="#131722" text-anchor="start" font-weight="normal" textLength="52.82" lengthAdjust="spacingAndGlyphs" stroke="#131722" stroke-width="0.2">Simple)</text>
<text x="348.29" y="60.7" font-size="15.1" fill="#ff6d00" text-anchor="start" font-weight="normal" textLength="55.48" lengthAdjust="spacingAndGlyphs" stroke="#ff6d00" stroke-width="0.2">3323.32</text>
<text x="413.09" y="60.7" font-size="15.1" fill="#2196f3" text-anchor="start" font-weight="normal" textLength="55.07" lengthAdjust="spacingAndGlyphs" stroke="#2196f3" stroke-width="0.2">3202.03</text>
<text x="477.16" y="60.7" font-size="15.1" fill="#26c6da" text-anchor="start" font-weight="normal" textLength="55.53" lengthAdjust="spacingAndGlyphs" stroke="#26c6da" stroke-width="0.2">2951.34</text>
<text x="23.64" y="535.7" font-size="15.1" fill="#131722" text-anchor="start" font-weight="normal" textLength="25.04" lengthAdjust="spacingAndGlyphs" stroke="#131722" stroke-width="0.2">FXS</text>
<text x="53.20" y="535.7" font-size="15.1" fill="#131722" text-anchor="start" font-weight="normal" textLength="26.67" lengthAdjust="spacingAndGlyphs" stroke="#131722" stroke-width="0.2">Fed</text>
<text x="83.13" y="535.7" font-size="15.1" fill="#131722" text-anchor="start" font-weight="normal" textLength="71.72" lengthAdjust="spacingAndGlyphs" stroke="#131722" stroke-width="0.2">Sentiment</text>
<text x="159.98" y="535.7" font-size="15.1" fill="#131722" text-anchor="start" font-weight="normal" textLength="38.07" lengthAdjust="spacingAndGlyphs" stroke="#131722" stroke-width="0.2">Index</text>
<text x="203.42" y="535.7" font-size="15.1" fill="#131722" text-anchor="start" font-weight="normal" textLength="47.48" lengthAdjust="spacingAndGlyphs" stroke="#131722" stroke-width="0.2">(close)</text>
<text x="260.82" y="535.7" font-size="15.1" fill="#000" text-anchor="start" font-weight="normal" textLength="46.82" lengthAdjust="spacingAndGlyphs" stroke="#000" stroke-width="0.2">107.47</text>
<text x="317.61" y="535.7" font-size="15.1" fill="#b2b5be" text-anchor="start" font-weight="normal" textLength="47.00" lengthAdjust="spacingAndGlyphs" stroke="#b2b5be" stroke-width="0.2">100.00</text>
<text x="31.96" y="657.0" font-size="15.1" fill="#131722" text-anchor="start" font-weight="normal" textLength="25.93" lengthAdjust="spacingAndGlyphs" stroke="#131722" stroke-width="0.2">Sep</text>
<text x="167.49" y="657.0" font-size="15.1" fill="#131722" text-anchor="start" font-weight="normal" textLength="24.73" lengthAdjust="spacingAndGlyphs" stroke="#131722" stroke-width="0.2">Oct</text>
<text x="314.20" y="657.0" font-size="15.1" fill="#131722" text-anchor="start" font-weight="normal" textLength="26.89" lengthAdjust="spacingAndGlyphs" stroke="#131722" stroke-width="0.2">Nov</text>
<text x="449.19" y="657.0" font-size="15.1" fill="#131722" text-anchor="start" font-weight="normal" textLength="27.17" lengthAdjust="spacingAndGlyphs" stroke="#131722" stroke-width="0.2">Dec</text>
<text x="586.22" y="657.0" font-size="15.1" fill="#131722" text-anchor="start" font-weight="bold" textLength="36.56" lengthAdjust="spacingAndGlyphs" stroke="#131722" stroke-width="0.2">2025</text>
<text x="738.91" y="657.0" font-size="15.1" fill="#131722" text-anchor="start" font-weight="normal" textLength="26.40" lengthAdjust="spacingAndGlyphs" stroke="#131722" stroke-width="0.2">Feb</text>
<text x="866.99" y="657.0" font-size="15.1" fill="#131722" text-anchor="start" font-weight="normal" textLength="26.87" lengthAdjust="spacingAndGlyphs" stroke="#131722" stroke-width="0.2">Mar</text>
<text x="1003.82" y="657.0" font-size="15.1" fill="#131722" text-anchor="start" font-weight="normal" textLength="23.66" lengthAdjust="spacingAndGlyphs" stroke="#131722" stroke-width="0.2">Apr</text>
<text x="1135.85" y="657.0" font-size="15.1" fill="#131722" text-anchor="start" font-weight="normal" textLength="28.35" lengthAdjust="spacingAndGlyphs" stroke="#131722" stroke-width="0.2">May</text>
<text x="1280.11" y="657.0" font-size="15.1" fill="#131722" text-anchor="start" font-weight="normal" textLength="24.41" lengthAdjust="spacingAndGlyphs" stroke="#131722" stroke-width="0.2">Jun</text>
<text x="1417.14" y="657.0" font-size="15.1" fill="#131722" text-anchor="start" font-weight="normal" textLength="20.78" lengthAdjust="spacingAndGlyphs" stroke="#131722" stroke-width="0.2">Jul</text>
<text x="43.07" y="698.7" font-size="17" fill="#131722" text-anchor="start" font-weight="normal" textLength="92.15" lengthAdjust="spacingAndGlyphs" stroke="#131722" stroke-width="0.35">TradingView</text>
<g transform="translate(13,683.1) scale(0.697)" fill="#131722"><path d="M14 22H7V11H0V4h14v18zM28 22h-8l7.5-18h8L28 22z"/><circle cx="20" cy="8" r="4"/></g>
</svg></body></html>
